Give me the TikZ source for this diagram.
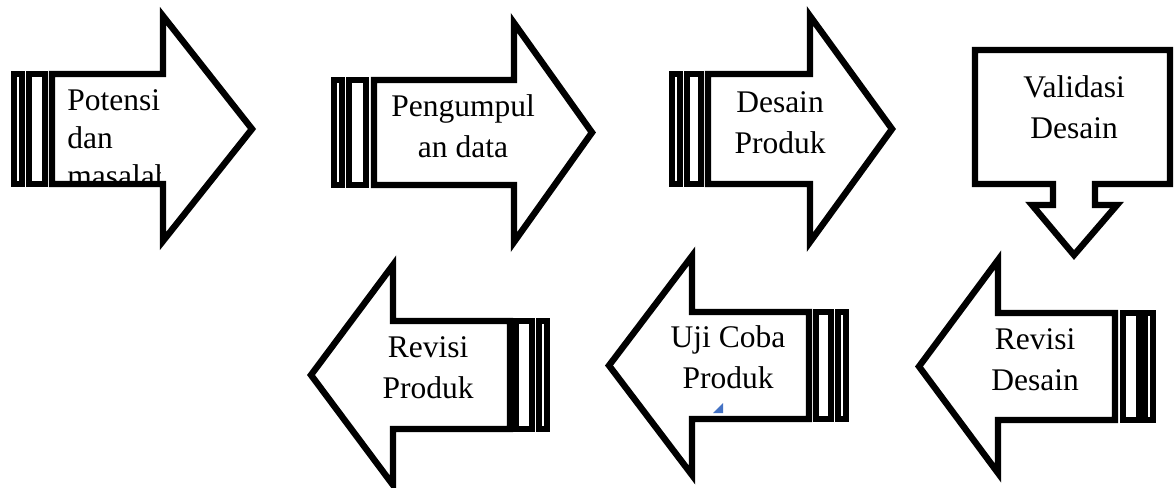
\documentclass[tikz,border=0pt]{standalone}
\usepackage{fontspec}
\setmainfont{Liberation Serif}
\begin{document}
\begin{tikzpicture}[x=0.5pt,y=-0.5pt,
  shp/.style={draw=black,line width=3.2pt,fill=white,line join=miter},
  lbl/.style={inner sep=0pt,align=center,anchor=base,font=\fontsize{15.75}{20.5}\selectfont}]
\useasboundingbox (0,0) rectangle (1176,487);
% Arrow 1: Potensi dan masalah
\draw[shp] (14,74) rectangle (22,184);
\draw[shp] (29,74) rectangle (45,184);
\draw[shp] (52,74) -- (163,74) -- (163,16) -- (252,129) -- (163,241) -- (163,184) -- (52,184) -- cycle;
\begin{scope}
\clip (55,77) rectangle (160,181);
\node[lbl,align=left,anchor=base west,font=\fontsize{15.75}{19}\selectfont] (a1) at (67,186) {Potensi\\dan\\masalah};
\end{scope}
% Arrow 2: Pengumpulan data
\draw[shp] (334,80) rectangle (342,185);
\draw[shp] (349,80) rectangle (366,185);
\draw[shp] (374,80) -- (514,80) -- (514,23) -- (592,132.5) -- (514,242) -- (514,185) -- (374,185) -- cycle;
\node[lbl] (a2) at (463,157) {Pengumpul\\an data};
% Arrow 3: Desain Produk
\draw[shp] (672,74) rectangle (680,184);
\draw[shp] (687,74) rectangle (701,184);
\draw[shp] (708,74) -- (810,74) -- (810,16) -- (892,129) -- (810,242) -- (810,184) -- (708,184) -- cycle;
\node[lbl] (a3) at (780,153) {Desain\\Produk};
% Arrow 4: Validasi Desain (down)
\draw[shp] (975,50) -- (1170,50) -- (1170,184) -- (1095,184) -- (1095,205) -- (1117,205) -- (1074,255) -- (1032,205) -- (1053,205) -- (1053,184) -- (975,184) -- cycle;
\node[lbl] (a4) at (1074,138) {Validasi\\Desain};
% Arrow 5: Revisi Desain (left)
\draw[shp] (1153,313) rectangle (1145,420);
\draw[shp] (1139,313) rectangle (1123,420);
\draw[shp] (1115,313) -- (998,313) -- (998,260) -- (919,366.5) -- (998,473) -- (998,420) -- (1115,420) -- cycle;
\node[lbl] (a5) at (1035,390) {Revisi\\Desain};
% Arrow 6: Uji Coba Produk (left)
\draw[shp] (846,312) rectangle (838,419);
\draw[shp] (831,312) rectangle (816,419);
\draw[shp] (809,312) -- (692,312) -- (692,256) -- (609,365.5) -- (692,475) -- (692,419) -- (809,419) -- cycle;
\node[lbl] (a6) at (728,388) {Uji Coba\\Produk};
\fill[fill={rgb,255:red,68;green,114;blue,196}] (713,413) -- (723,413) -- (723,403) -- cycle;
% Arrow 7: Revisi Produk (left)
\draw[shp] (547,321) rectangle (539,429);
\draw[shp] (532,321) rectangle (516,429);
\draw[shp] (510,321) -- (393,321) -- (393,265) -- (311,375) -- (393,485) -- (393,429) -- (510,429) -- cycle;
\node[lbl] (a7) at (428,398) {Revisi\\Produk};
\end{tikzpicture}
\end{document}
